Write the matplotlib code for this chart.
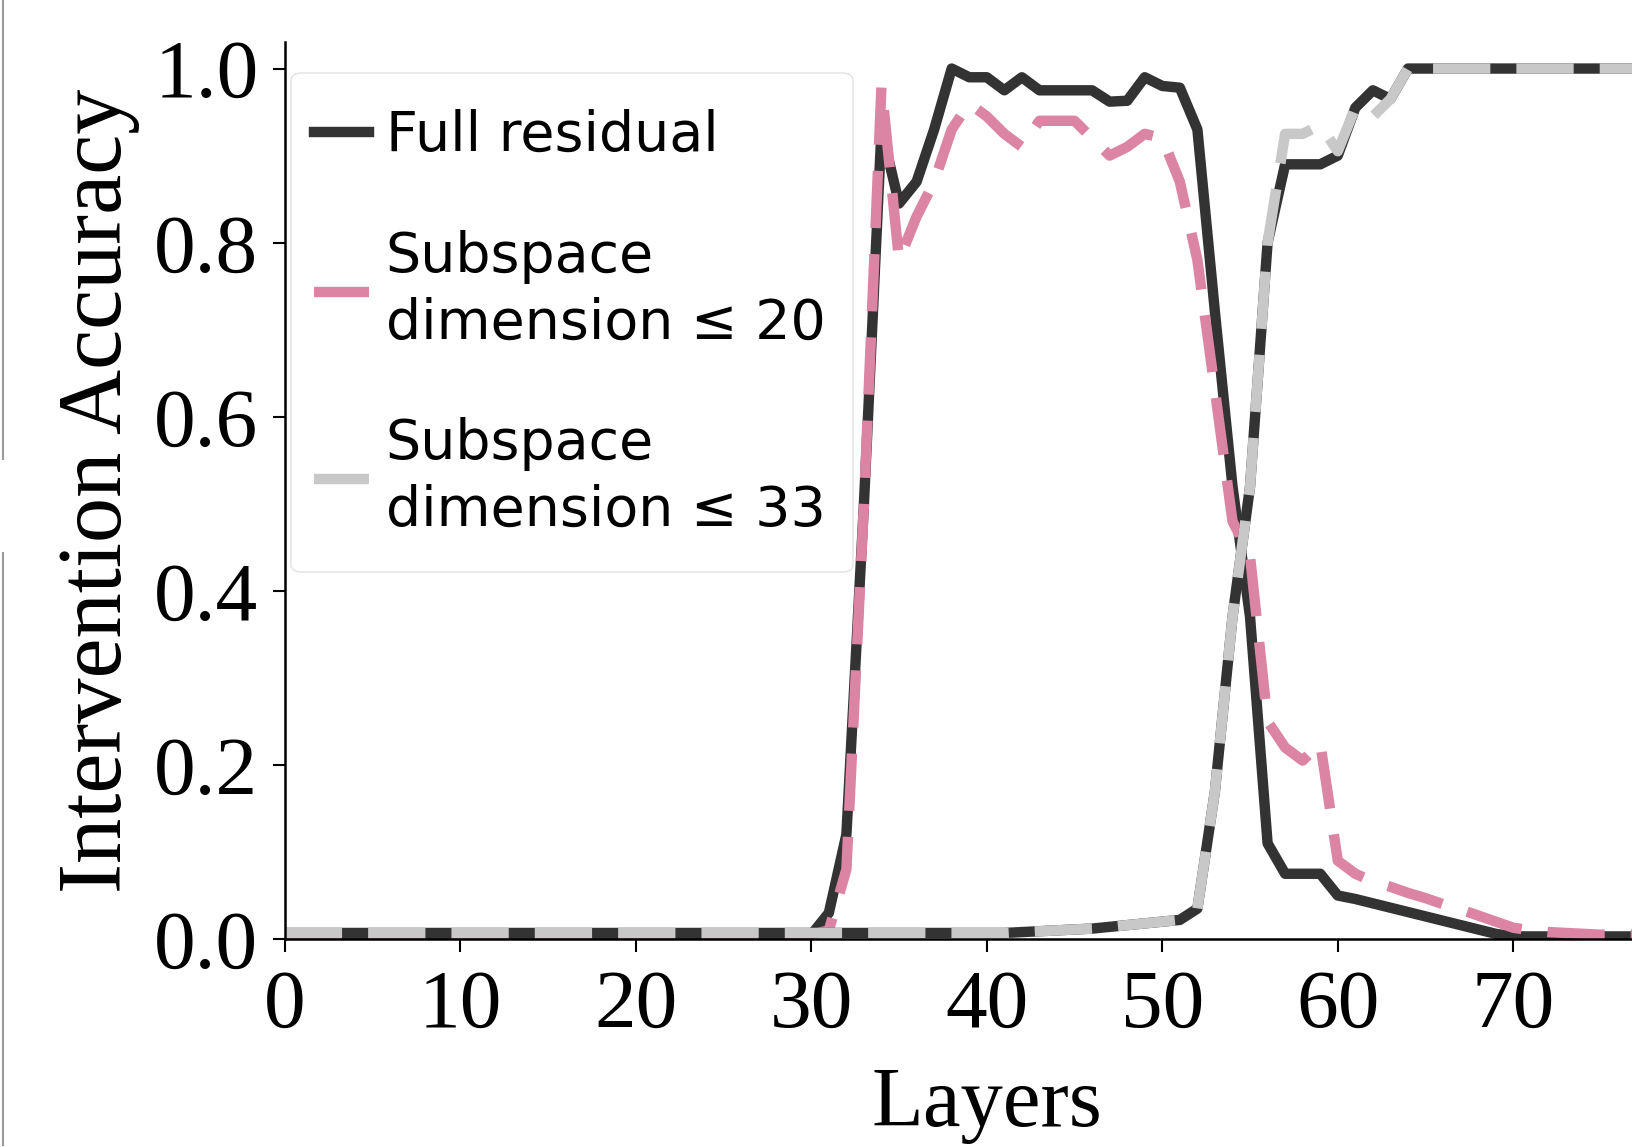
import numpy as np
import matplotlib
matplotlib.use('Agg')
import matplotlib.pyplot as plt
from matplotlib.lines import Line2D
from matplotlib.patches import FancyBboxPatch

layers = list(range(81))

# group A: full residual (dark) and subspace <= 20 (pink)
full_a = [0.005] * 31 + [
    0.03, 0.12, 0.50, 0.93, 0.845, 0.87, 0.93, 1.00, 0.99, 0.99,      # 31-40
    0.975, 0.99, 0.975, 0.975, 0.975, 0.975, 0.962, 0.963, 0.99, 0.98,  # 41-50
    0.978, 0.93, 0.72, 0.52, 0.37, 0.11, 0.075, 0.075, 0.075, 0.05,   # 51-60
    0.046, 0.041, 0.036, 0.031, 0.026, 0.021, 0.016, 0.011, 0.006, 0.003,  # 61-70
    0.003, 0.003, 0.003, 0.003, 0.003, 0.003, 0.003, 0.003, 0.003, 0.003]  # 71-80
sub20 = [0.005] * 31 + [
    0.01, 0.08, 0.50, 0.98, 0.78, 0.83, 0.87, 0.93, 0.96, 0.945,
    0.925, 0.91, 0.94, 0.94, 0.94, 0.92, 0.90, 0.91, 0.925, 0.92,
    0.87, 0.78, 0.63, 0.48, 0.44, 0.25, 0.22, 0.205, 0.225, 0.09,
    0.075, 0.066, 0.06, 0.053, 0.047, 0.04, 0.034, 0.027, 0.02, 0.013,
    0.01, 0.008, 0.007, 0.006, 0.005, 0.005, 0.005, 0.005, 0.005, 0.005]

# group B: full residual (dark) and subspace <= 33 (grey)
full_b = [0.007] * 42 + [
    0.008, 0.009, 0.01, 0.011, 0.012, 0.014, 0.016, 0.018, 0.02,     # 42-50
    0.022, 0.035, 0.17, 0.37, 0.52, 0.80, 0.89, 0.89, 0.89, 0.90,     # 51-60
    0.955, 0.975, 0.965] + [1.0] * 17                                  # 61-80
sub33 = [0.007] * 42 + [
    0.008, 0.009, 0.01, 0.011, 0.012, 0.014, 0.016, 0.018, 0.02,
    0.022, 0.035, 0.17, 0.37, 0.52, 0.80, 0.925, 0.925, 0.935, 0.905,
    0.955, 0.945, 0.965] + [1.0] * 17

labels = ['Full residual', 'Subspace\ndimension \u2264 20', 'Subspace\ndimension \u2264 33']
xticks = [0, 10, 20, 30, 40, 50, 60, 70]
yticks = [0.0, 0.2, 0.4, 0.6, 0.8, 1.0]
dark = '#333333'
pink = '#db84a4'
grey = '#c8c8c8'

fig = plt.figure(figsize=(16.32, 11.47), dpi=100)
ax = fig.add_axes([0.1745, 0.1813, 0.8603, 0.7817])

l1, = ax.plot(layers, full_a, color=dark, lw=7.5)
l2, = ax.plot(layers, sub20, color=pink, lw=7.5, dashes=(5.5, 2.5))
l3, = ax.plot(layers, full_b, color=dark, lw=7.5)
l4, = ax.plot(layers, sub33, color=grey, lw=7.5, dashes=(5.5, 2.5))

ax.set_xlim(0, 80)
ax.set_ylim(0, 1.03)
ax.spines['top'].set_visible(False)
ax.spines['right'].set_visible(False)
for s in ['left', 'bottom']:
    ax.spines[s].set_linewidth(1.8)

ax.set_xticks(xticks)
ax.set_yticks(yticks)
ax.set_yticklabels(['%.1f' % v for v in yticks])
ax.tick_params(length=9, width=1.5, pad=10)
ax.tick_params(axis='x', pad=13)
for t in ax.get_xticklabels() + ax.get_yticklabels():
    t.set_fontfamily('Liberation Serif')
    t.set_fontsize(60)

ax.set_xlabel('Layers', fontfamily='Liberation Serif', fontsize=61, labelpad=16)
ax.set_ylabel('Intervention Accuracy', fontfamily='Liberation Serif', fontsize=65, labelpad=10)

# legend frame drawn separately: taller padding top/bottom than at the sides
frame = FancyBboxPatch((0.0044, 0.4093), 0.4003, 0.5566, transform=ax.transAxes,
                       boxstyle='round,pad=0,rounding_size=0.008',
                       facecolor='white', edgecolor='#dddddd', lw=1.0,
                       alpha=0.85, zorder=4)
ax.add_patch(frame)
leg = ax.legend([l1, l2, l4], labels, loc='upper left', bbox_to_anchor=(-0.0052, 0.966),
                borderaxespad=0, prop={'family': 'DejaVu Sans', 'size': 40},
                handlelength=1.0, handletextpad=0.3, labelspacing=1.2,
                borderpad=0.65, frameon=False)
for t in leg.get_texts():
    t.set_linespacing(1.3)

# thin border left over from the neighbouring panel
fig.add_artist(Line2D([0.002, 0.002], [1.0, 0.60], color='#999999', lw=1.5))
fig.add_artist(Line2D([0.002, 0.002], [0.518, 0.002], color='#999999', lw=1.5))

fig.savefig('out.png', dpi=100)
